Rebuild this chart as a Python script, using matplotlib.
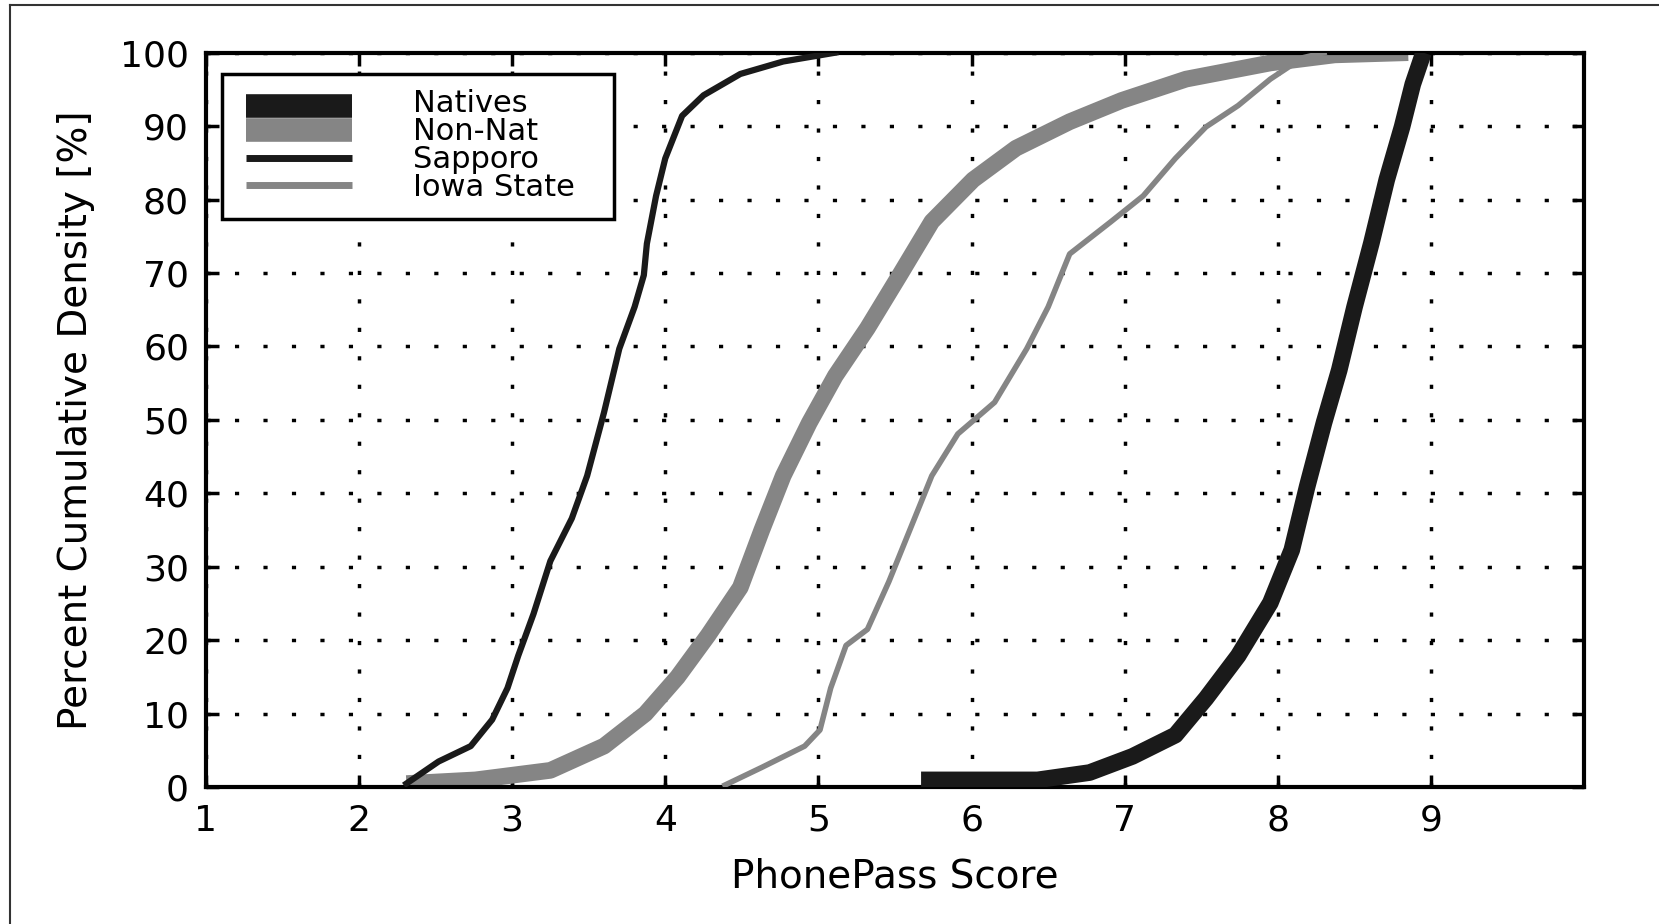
import matplotlib
matplotlib.use("Agg")
import matplotlib.pyplot as plt
from matplotlib.lines import Line2D
from matplotlib.patches import Rectangle

# Data (PhonePass score vs cumulative %)
natives_x = [5.67, 6.43, 6.77, 7.05, 7.33, 7.53, 7.74, 7.95, 8.09, 8.19, 8.30, 8.40, 8.50, 8.61, 8.71, 8.81, 8.88, 8.95]
natives_y = [1.0, 1.0, 2.0, 4.2, 7.1, 12.1, 17.9, 25.1, 32.3, 40.9, 49.6, 56.8, 65.4, 74.1, 82.7, 89.9, 95.7, 100.0]

nonnat_x = [2.31, 2.76, 3.25, 3.60, 3.87, 4.08, 4.28, 4.49, 4.63, 4.77, 4.94, 5.11, 5.32, 5.53, 5.74, 6.01, 6.29, 6.64, 6.98, 7.40, 7.95, 8.37, 8.85]
nonnat_y = [0.5, 1.0, 2.3, 5.6, 10.0, 15.0, 20.7, 27.2, 35.0, 42.4, 49.6, 56.0, 62.5, 69.7, 77.0, 82.7, 87.0, 90.6, 93.5, 96.4, 98.6, 99.7, 100.0]

sapporo_x = [2.31, 2.52, 2.73, 2.87, 2.97, 3.04, 3.14, 3.25, 3.39, 3.49, 3.60, 3.70, 3.80, 3.86, 3.88, 3.94, 4.00, 4.11, 4.25, 4.49, 4.77, 5.11]
sapporo_y = [0.5, 3.5, 5.6, 9.2, 13.5, 17.9, 23.6, 30.8, 36.6, 42.4, 51.0, 59.7, 65.4, 69.7, 74.0, 80.5, 85.6, 91.4, 94.2, 97.1, 98.8, 100.0]

iowa_x = [4.39, 4.63, 4.91, 5.01, 5.08, 5.18, 5.32, 5.46, 5.60, 5.74, 5.91, 6.15, 6.36, 6.50, 6.64, 6.91, 7.12, 7.33, 7.53, 7.74, 7.95, 8.16, 8.30]
iowa_y = [0.3, 2.7, 5.6, 7.8, 13.5, 19.3, 21.5, 28.0, 35.2, 42.4, 48.1, 52.4, 59.7, 65.4, 72.6, 77.0, 80.5, 85.6, 89.9, 92.8, 96.4, 99.3, 100.0]

labels = ["Natives", "Non-Nat", "Sapporo", "Iowa State"]
x_ticks = [1, 2, 3, 4, 5, 6, 7, 8, 9]
y_ticks = [0, 10, 20, 30, 40, 50, 60, 70, 80, 90, 100]

DARK = "#1a1a1a"
GRAY = "#858585"
FONT = ["Liberation Sans Narrow", "DejaVu Sans"]

fig = plt.figure(figsize=(16.59, 9.24), dpi=100)
ax = fig.add_axes([0.124, 0.148, 0.831, 0.795])

ax.plot(natives_x, natives_y, color=DARK, lw=12, solid_capstyle="butt", zorder=3)
ax.plot(nonnat_x, nonnat_y, color=GRAY, lw=12, solid_capstyle="butt", zorder=2)
ax.plot(sapporo_x, sapporo_y, color=DARK, lw=4.5, zorder=4)
ax.plot(iowa_x, iowa_y, color=GRAY, lw=4.0, zorder=4)

ax.set_xlim(1, 10)
ax.set_ylim(0, 100)
ax.set_xticks(x_ticks)
ax.set_yticks(y_ticks)
ax.set_xticklabels([str(t) for t in x_ticks], family=FONT, fontsize=26)
ax.set_yticklabels([str(t) for t in y_ticks], family=FONT, fontsize=26)
ax.tick_params(direction="in", length=9, width=2.5, top=True, right=True, pad=12, colors="black")
ax.grid(True, color="black", linestyle=(0, (1.2, 7)), linewidth=2.5)
for s in ax.spines.values():
    s.set_linewidth(3)
    s.set_color("black")

ax.set_xlabel("PhonePass Score", family=FONT, fontsize=28, labelpad=14)
ax.set_ylabel("Percent Cumulative Density [%]", family=FONT, fontsize=28, labelpad=18)

# Legend (drawn in axes fraction coordinates)
ax.add_patch(Rectangle((0.0115, 0.774), 0.2845, 0.197, transform=ax.transAxes,
                       facecolor="white", edgecolor="black", lw=2.5, zorder=10))
handle_y = [0.928, 0.895, 0.856, 0.820]
handle_lw = [17, 17, 5, 5]
handle_c = [DARK, GRAY, DARK, GRAY]
text_y = [0.931, 0.893, 0.855, 0.816]
for lab, hy, lw, c, ty in zip(labels, handle_y, handle_lw, handle_c, text_y):
    ax.add_line(Line2D([0.029, 0.106], [hy, hy], transform=ax.transAxes, color=c, lw=lw,
                       solid_capstyle="butt", zorder=11))
    ax.text(0.150, ty, lab, transform=ax.transAxes, family=FONT, fontsize=22,
            va="center", ha="left", zorder=12)

# Outer frame lines of the original figure
fig.add_artist(Line2D([0.006, 0.006], [0.0, 0.995], transform=fig.transFigure, color="#333333", lw=1.5))
fig.add_artist(Line2D([0.006, 1.0], [0.995, 0.995], transform=fig.transFigure, color="#333333", lw=1.5))

fig.savefig("out.png", dpi=100)
